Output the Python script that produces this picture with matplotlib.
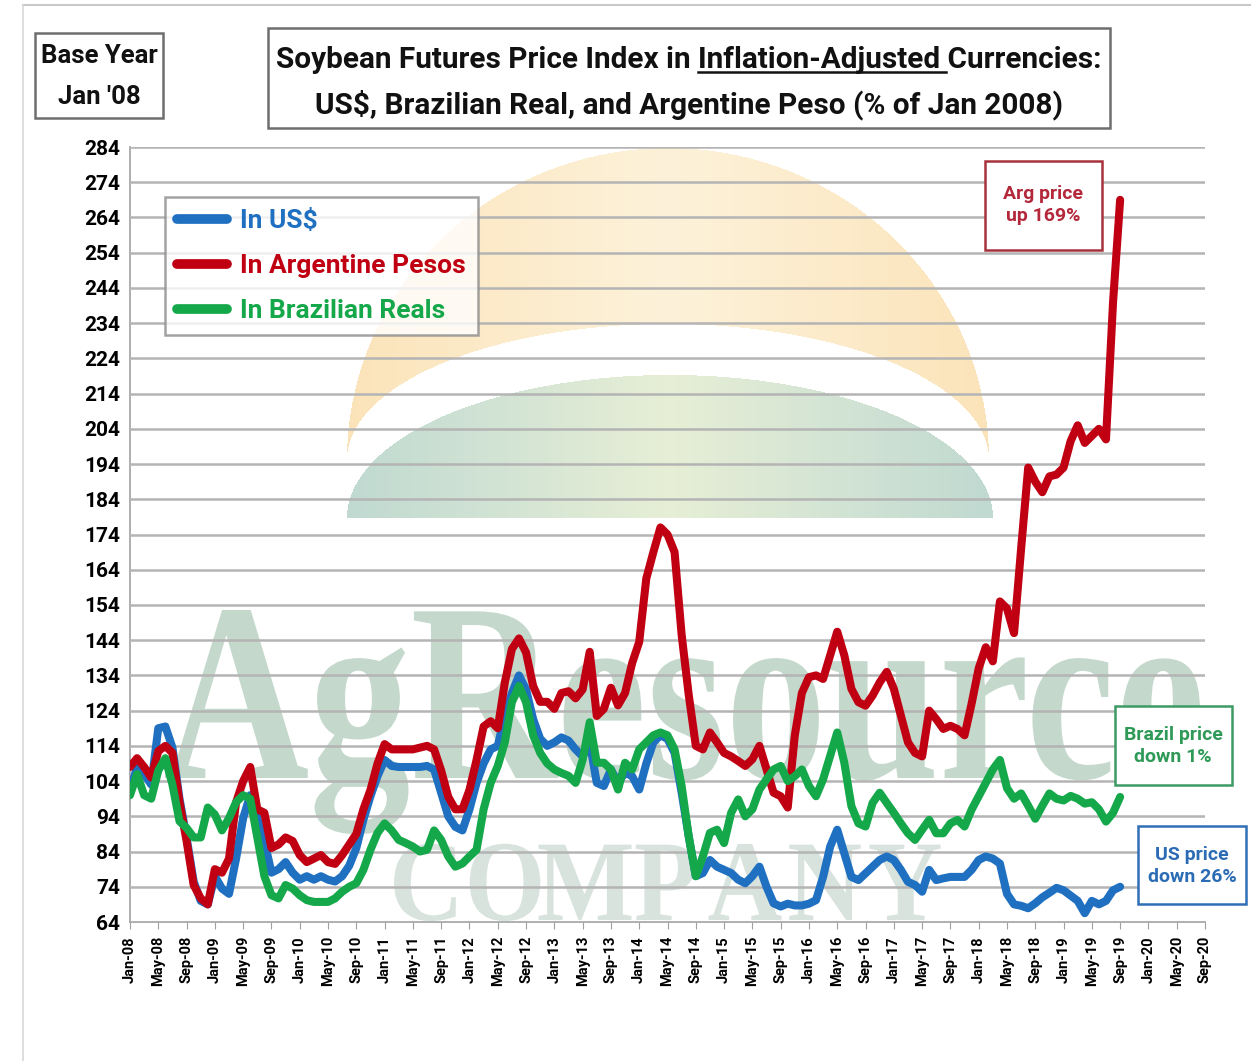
import numpy as np
import matplotlib
matplotlib.use("Agg")
import matplotlib.pyplot as plt
from matplotlib.textpath import TextPath
from matplotlib.patches import PathPatch, Rectangle
from matplotlib.font_manager import FontProperties
from matplotlib.lines import Line2D
import matplotlib.transforms as mtransforms

plt.rcParams['font.family'] = ['Roboto', 'DejaVu Sans']
plt.rcParams['font.weight'] = 'bold'

# ---------------- data (monthly, Jan-08 .. Sep-19, % of Jan 2008) ----------------
us_index = [101, 108, 106, 103, 119, 119.5, 113.5, 99, 88, 75.5, 70, 69, 77, 73.5, 72, 82,
            93.5, 100, 93.5, 87, 78, 79, 81, 78, 76, 77, 76, 77, 76, 75.5, 77, 80,
            85, 93, 99.7, 105.4, 110, 108.3, 108, 108, 108, 108, 108.3, 107.3, 100.7, 94, 91, 90,
            96, 103.5, 109, 113, 114, 122.6, 129, 134, 130, 121.6, 116, 114, 115, 116.4, 115.5, 113,
            111, 115, 103.5, 102.6, 107.3, 103.5, 106.4, 105.4, 101.6, 109, 115, 117, 116, 112, 100.7, 88.3,
            77, 77.9, 81.6, 79.7, 78.8, 77.9, 76, 75, 77, 79.7, 74, 69.3, 68.4, 69.2, 68.7, 68.7,
            69.2, 70.2, 76.8, 85.4, 90.2, 83.5, 76.8, 75.9, 77.8, 79.7, 81.6, 82.6, 81.6, 78.8, 75.4, 74.5,
            72.6, 78.8, 75.9, 76.4, 76.8, 76.8, 76.8, 78.8, 81.6, 82.6, 82, 80.6, 72, 69, 68.6, 67.9,
            69.3, 71, 72.3, 73.7, 73, 71.5, 70, 66.5, 70, 69, 70, 73, 74]
arg_index = [108, 110.5, 108, 105, 112.5, 114, 112, 98, 87, 74.5, 70.7, 69, 79, 78, 82, 98,
             104, 108, 96, 95, 85, 86, 88, 87, 83, 81, 82, 83, 81, 80.5, 83, 86,
             89, 96, 101.5, 109, 114.5, 113, 113, 113, 113, 113.5, 114, 113, 107, 99.5, 96, 96,
             101.5, 110, 119.5, 121, 119, 132, 141.5, 144.5, 140.5, 131, 126.5, 126.5, 124.5, 129, 129.5, 127.5,
             130, 140.7, 122.5, 124.5, 130.5, 125.5, 129, 137.5, 143.5, 161.5, 169, 176, 174, 169, 145.5, 128.5,
             114, 113, 117.8, 115, 112, 111, 109.7, 108.3, 110.2, 114, 107.3, 100.7, 99.7, 96.5, 117, 129,
             133.5, 134, 133, 139.7, 146.4, 139.7, 130.2, 126.4, 125.4, 128.3, 132, 135, 130.2, 122.6, 115, 112,
             111, 124, 121.6, 118.8, 119.7, 118.8, 117, 126, 136, 142, 138, 155, 153, 146, 170, 193,
             189, 186, 190.5, 191, 193, 200.5, 205, 200, 202, 204, 201, 240, 269]
brl_index = [100, 106, 100, 99, 107, 110.5, 103, 92.6, 90.7, 88, 88, 96.5, 94.5, 90, 93.5, 98,
             100, 99, 88, 77, 71.6, 70.7, 74.5, 73.5, 71.6, 70.2, 69.7, 69.7, 69.7, 70.7, 72.6, 74,
             75, 78.8, 84.5, 89.3, 92, 90, 87.3, 86.4, 85.4, 84, 84.5, 90, 87.3, 82.6, 79.7, 80.6,
             82.6, 84.5, 96, 103.5, 108.3, 115, 126.4, 131, 126.4, 117, 112, 109, 107.3, 106.3, 105.5, 103.5,
             110, 120.7, 109.2, 109.2, 107.3, 101.6, 109.2, 107.3, 113, 115, 117, 117.8, 117, 113, 102.6, 88.3,
             77, 82.6, 89.3, 90.2, 86.4, 95, 98.8, 94, 96, 101.6, 104.5, 107.3, 108.3, 104, 105.4, 107.3,
             102.6, 99.7, 104.5, 111.1, 117.8, 109.2, 96.9, 92, 91.1, 97.8, 100.7, 97.8, 95, 92, 89.2, 87.3,
             90.2, 93, 89.2, 89.2, 92, 93, 91.1, 95.9, 99.7, 103.5, 107.3, 110, 102, 99, 100.5, 97,
             93.3, 97, 100.5, 99, 98.5, 99.8, 99, 97.6, 98, 96, 92.5, 95, 99.5]

tick_labels = ["Jan-08", "May-08", "Sep-08", "Jan-09", "May-09", "Sep-09", "Jan-10", "May-10", "Sep-10",
               "Jan-11", "May-11", "Sep-11", "Jan-12", "May-12", "Sep-12", "Jan-13", "May-13", "Sep-13",
               "Jan-14", "May-14", "Sep-14", "Jan-15", "May-15", "Sep-15", "Jan-16", "May-16", "Sep-16",
               "Jan-17", "May-17", "Sep-17", "Jan-18", "May-18", "Sep-18", "Jan-19", "May-19", "Sep-19",
               "Jan-20", "May-20", "Sep-20"]
y_ticks = list(range(64, 285, 10))

series_names = ["In US$", "In Argentine Pesos", "In Brazilian Reals"]
series_colors = ["#1f70c1", "#c00012", "#15a84a"]

W, H = 1251, 1061
fig = plt.figure(figsize=(W / 100, H / 100), dpi=100)
fig.patch.set_facecolor("white")

# pixel (top-left origin) -> figure transform
pix = mtransforms.Affine2D().scale(1 / W, -1 / H).translate(0, 1) + fig.transFigure

# ---------------- main axes ----------------
ax = fig.add_axes([130 / W, 1 - 922 / H, (1205 - 130) / W, (922 - 147) / H])
ax.set_facecolor("none")

# ---- decorations (behind gridlines) ----
x0, x1, y0, y1 = 330, 1010, 135, 525
xx, yy = np.meshgrid(np.arange(x0, x1) + 0.5, np.arange(y0, y1) + 0.5)

cx, cy, ax_o, bo, bi = 668, 460, 321, 312, 136
outer = ((xx - cx) / ax_o) ** 2 + ((yy - cy) / bo) ** 2 < 1
inner = ((xx - cx) / ax_o) ** 2 + ((yy - cy) / bi) ** 2 < 1
cres = outer & ~inner & (yy < cy)
edge = np.clip(np.abs(xx - cx) / ax_o, 0, 1)
img_o = np.zeros(xx.shape + (4,))
img_o[..., 0] = 248 / 255
img_o[..., 1] = (214 - 14 * edge) / 255
img_o[..., 2] = (140 - 25 * edge) / 255
img_o[..., 3] = np.where(cres, 0.33 + 0.17 * edge, 0)
ax.imshow(img_o, extent=(x0, x1, y1, y0), origin="upper", interpolation="bilinear",
          transform=pix, zorder=0.1, clip_on=False, aspect="auto")

dcx, dcy, da, db = 670, 518, 323, 143
dome = (((xx - dcx) / da) ** 2 + ((yy - dcy) / db) ** 2 < 1) & (yy < dcy)
e2 = np.clip(np.abs(xx - dcx) / da, 0, 1)
img_g = np.zeros(xx.shape + (4,))
img_g[..., 0] = (222 - 55 * e2) / 255
img_g[..., 1] = (233 - 30 * e2) / 255
img_g[..., 2] = (198 - 6 * e2) / 255
img_g[..., 3] = np.where(dome, 0.72, 0)
ax.imshow(img_g, extent=(x0, x1, y1, y0), origin="upper", interpolation="bilinear",
          transform=pix, zorder=0.15, clip_on=False, aspect="auto")

serif = FontProperties(family="Liberation Serif")
tp = TextPath((0, 0), "AgResource", size=100, prop=serif)
ext = tp.get_extents()
cap = TextPath((0, 0), "A", size=100, prop=serif).get_extents().height
sx = (1200 - 165) / ext.width
sy = 168 / cap
tr = mtransforms.Affine2D().translate(-ext.x0, 0).scale(sx, -sy).translate(165, 778)
ax.add_patch(PathPatch(tr.transform_path(tp), fc="#a9c6b5", ec="none", alpha=0.68,
                       transform=pix, zorder=0.2, clip_on=False))

centers = [425, 505, 585, 665, 745, 825, 905]
for ch, cxl in zip("COMPANY", centers):
    p = TextPath((0, 0), ch, size=100, prop=serif)
    e = p.get_extents()
    s = 76 / cap
    t = mtransforms.Affine2D().translate(-(e.x0 + e.width / 2), 0).scale(s * 0.9, -s).translate(cxl, 920)
    ax.add_patch(PathPatch(t.transform_path(p), fc="#b9cdc2", ec="none", alpha=0.55,
                           transform=pix, zorder=0.2, clip_on=False))

# ---- data lines ----
months = np.arange(len(us_index))
for vals, i in [(us_index, 0), (arg_index, 1), (brl_index, 2)]:
    ax.plot(months, vals, color=series_colors[i], lw=5.8, solid_joinstyle="round",
            solid_capstyle="round", zorder=3 + i, label=series_names[i])

ax.set_xlim(0, 4 * (len(tick_labels) - 1))
ax.set_ylim(64, 284)
ax.set_yticks(y_ticks)
ax.set_yticklabels([str(v) for v in y_ticks], fontsize=15, fontweight="bold")
ax.set_xticks(np.arange(0, 4 * len(tick_labels), 4))
ax.set_xticklabels(tick_labels, rotation=90, fontsize=10.5, fontweight="bold")
ax.tick_params(axis="y", length=0, pad=7)
ax.tick_params(axis="x", length=5, color="#a0a0a0", pad=5)
ax.yaxis.grid(True, color="#b4b4b4", lw=1.8)
ax.set_axisbelow(False)
for s in ["top", "right"]:
    ax.spines[s].set_visible(False)
ax.spines["left"].set_color("#a8a8a8")
ax.spines["left"].set_linewidth(1.3)
ax.spines["bottom"].set_color("#a8a8a8")
ax.spines["bottom"].set_linewidth(1.3)

# legend
handles = [Line2D([0], [0], color=series_colors[i], lw=7, solid_capstyle="round") for i in range(3)]
leg = ax.legend(handles, series_names, loc="upper left", bbox_to_anchor=(165 / W, 1 - 197 / H),
                bbox_transform=fig.transFigure, borderaxespad=0, frameon=True, fancybox=False,
                prop={"size": 19, "weight": "bold"}, handlelength=1.9, handletextpad=0.5,
                labelspacing=0.8, borderpad=0.45)
leg.set_zorder(10)
leg.get_frame().set_edgecolor("#8c8c8c")
leg.get_frame().set_linewidth(1.8)
for txt, c in zip(leg.get_texts(), series_colors):
    txt.set_color(c)

# outer frame lines
fig.add_artist(Line2D([23, W], [5, 5], transform=pix, color="#c8c8c8", lw=1.5))
fig.add_artist(Line2D([23, 23], [5, H], transform=pix, color="#d8d8d8", lw=1.2))

# ---------------- boxes & titles ----------------
def fig_box(xl, yt, xr, yb, ec, lw=1.5):
    rect = Rectangle((xl, yt), xr - xl, yb - yt, transform=pix, fc="white", ec=ec, lw=lw, zorder=10)
    fig.add_artist(rect)

fig_box(268, 28, 1110, 128, "#6e6e6e", 1.8)
fig_box(35, 33, 163, 118, "#6e6e6e", 1.8)

title_fs = 21.4
line1 = "Soybean Futures Price Index in Inflation-Adjusted Currencies:"
line2 = "US$, Brazilian Real, and Argentine Peso (% of Jan 2008)"
t1 = fig.text(689 / W, 1 - 68 / H, line1, ha="center", va="baseline", fontsize=title_fs,
              fontweight="bold", color="#111111", zorder=11)
t2 = fig.text(689 / W, 1 - 113 / H, line2, ha="center", va="baseline", fontsize=title_fs,
              fontweight="bold", color="#111111", zorder=11)
fig.text(99 / W, 1 - 63 / H, "Base Year", ha="center", va="baseline", fontsize=18.5,
         fontweight="bold", color="#111111", zorder=11)
fig.text(99 / W, 1 - 104 / H, "Jan '08", ha="center", va="baseline", fontsize=18.5,
         fontweight="bold", color="#111111", zorder=11)

# annotation boxes
fig_box(985, 161, 1102, 250, "#a8323c", 1.8)
fig.text(1043 / W, 1 - 205 / H, "Arg price\nup 169%", ha="center", va="center", fontsize=14,
         fontweight="bold", color="#b3283a", zorder=11, linespacing=1.35)
fig_box(1115, 706, 1232, 785, "#3c9a62", 1.8)
fig.text(1173 / W, 1 - 746 / H, "Brazil price\ndown 1%", ha="center", va="center", fontsize=14,
         fontweight="bold", color="#2f9a58", zorder=11, linespacing=1.35)
fig_box(1138, 826, 1246, 904, "#2e6fb5", 1.8)
fig.text(1192 / W, 1 - 866 / H, "US price\ndown 26%", ha="center", va="center", fontsize=14,
         fontweight="bold", color="#2c6cb4", zorder=11, linespacing=1.35)

# underline "Inflation-Adjusted"
fig.canvas.draw()
rend = fig.canvas.get_renderer()
bb = t1.get_window_extent(rend)
tmp = fig.text(0, 0, "Soybean Futures Price Index in Inflation-Adjusted", fontsize=title_fs, fontweight="bold")
w_a = tmp.get_window_extent(rend).width
tmp.remove()
tmp = fig.text(0, 0, "Inflation-Adjusted", fontsize=title_fs, fontweight="bold")
w_m = tmp.get_window_extent(rend).width
tmp.remove()
ux0 = bb.x0 + w_a - w_m
ux1 = bb.x0 + w_a + 6
uy = (H - 68) - 4
fig.add_artist(Line2D([ux0 / W, ux1 / W], [uy / H, uy / H], transform=fig.transFigure,
                      color="#111111", lw=1.8, zorder=12))

fig.savefig("out.png", dpi=100, facecolor="white")
